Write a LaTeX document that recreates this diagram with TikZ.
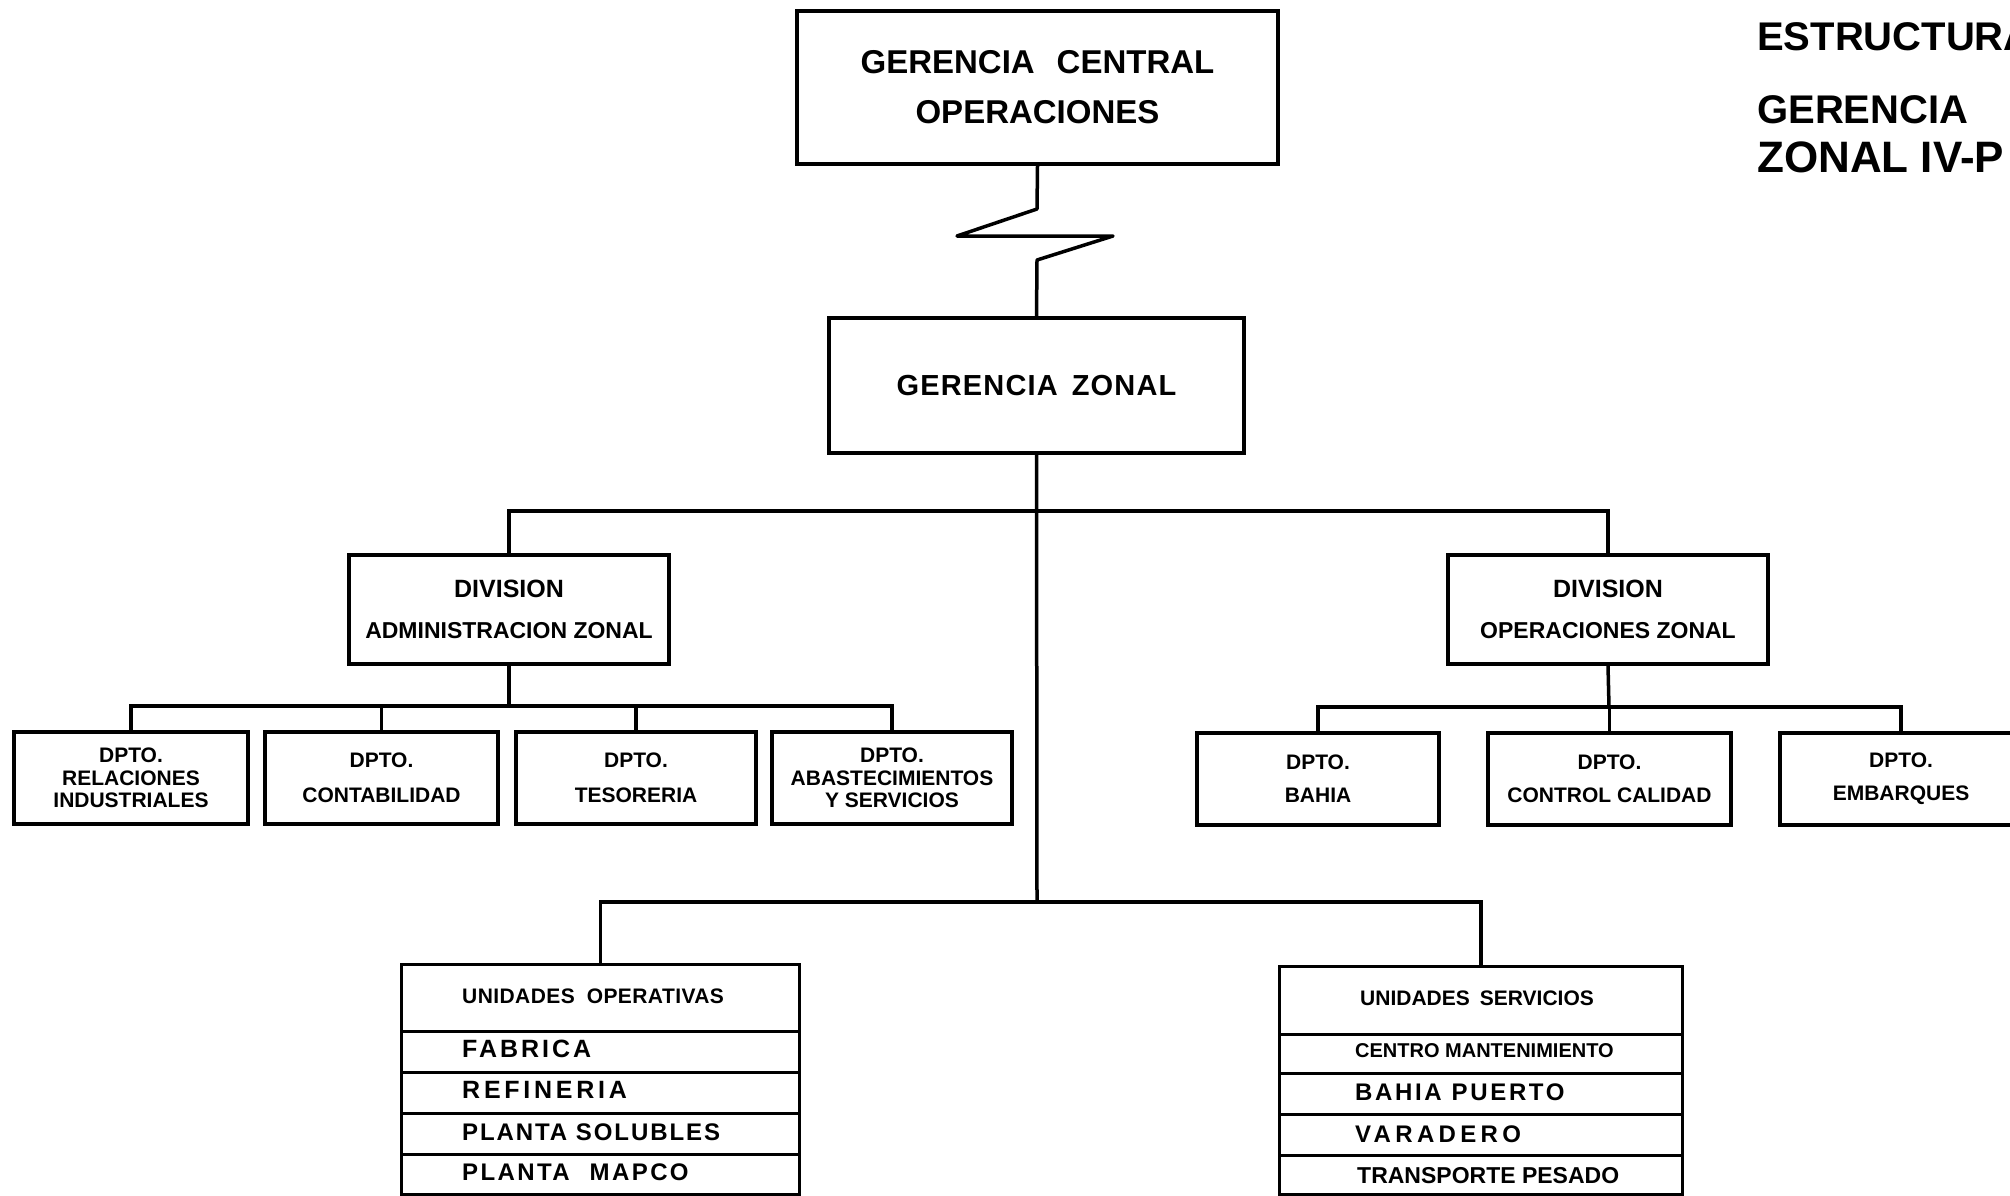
\documentclass[tikz,border=0pt]{standalone}
\usepackage{fontspec}
\setmainfont{Liberation Sans}
% letter-spaced text: \lsp{amount}{text}
\newcommand{\lsp}[2]{{\addfontfeature{LetterSpace=#1}#2}}

\begin{document}
\begin{tikzpicture}[x=1pt,y=-1pt,
  box/.style={draw, line width=3.5pt, inner sep=0pt, align=center},
  cell/.style={draw, line width=3pt, inner sep=0pt, anchor=north west},
  link/.style={line width=3.5pt},
  rowtext/.style={anchor=base west, inner sep=0pt, font=\bfseries},
  dept/.style={box, minimum height=92pt},
  deptthree/.style={font=\bfseries\fontsize{21}{22.5}\selectfont},
  depttwo/.style={font=\bfseries\fontsize{21}{35}\selectfont},
  deptright/.style={font=\bfseries\fontsize{21}{33}\selectfont},
  division/.style={box, minimum width=320pt, minimum height=109pt,
    font=\bfseries\fontsize{23}{41}\selectfont},
  title/.style={anchor=base west, inner sep=0pt,
    font=\bfseries\fontsize{40}{48}\selectfont}
]
\useasboundingbox (0,0) rectangle (2010,1195);
\clip (0,0) rectangle (2010,1195);

% heading at the upper right
\node[title] (t1) at (1757,50) {ESTRUCTURA};
\node[title] (t2) at (1757,123) {GERENCIA};
\node[title, font=\bfseries\fontsize{44}{48}\selectfont] (t3) at (1757,172) {ZONAL IV-P};

% top management
\node[box, minimum width=481pt, minimum height=153pt,
  font=\bfseries\fontsize{33}{50}\selectfont] (gc) at (1037.5,87.5)
  {GERENCIA\hspace{22pt}CENTRAL\\OPERACIONES};
\node[box, minimum width=415pt, minimum height=135pt,
  font=\bfseries\fontsize{29}{34}\selectfont] (gz) at (1036.5,385.5)
  {\lsp{4}{GERENCIA\hspace{14pt}ZONAL}};

% indirect link between the two managements
\coordinate (z1) at (1037,209);
\coordinate (z2) at (957,236);
\coordinate (z3) at (1113,236);
\coordinate (z4) at (1037,260);
\draw[link, line join=round] (gc.south) -- (z1) -- (z2) -- (z3) -- (z4) -- (gz.north);

% divisions
\node[division] (da) at (509,609.5)
  {{\fontsize{25}{41}\selectfont DIVISION}\\ADMINISTRACION ZONAL};
\node[division] (do) at (1608,609.5)
  {{\fontsize{25}{41}\selectfont DIVISION}\\OPERACIONES ZONAL};

\coordinate (bar1) at (1037,511);
\coordinate (bar3) at (1037,902);
\draw[link] (gz.south) -- (bar3);
\draw[link] (da.north) |- (bar1) -| (do.north);

% administration departments
\node[dept, deptthree, minimum width=234pt] (d1) at (131,778) {DPTO.\\RELACIONES\\INDUSTRIALES};
\node[dept, depttwo, minimum width=233pt] (d2) at (381.5,778) {DPTO.\\CONTABILIDAD};
\node[dept, depttwo, minimum width=240pt] (d3) at (636,778) {DPTO.\\TESORERIA};
\node[dept, deptthree, minimum width=240pt] (d4) at (892,778) {DPTO.\\ABASTECIMIENTOS\\Y SERVICIOS};

\coordinate (bar2) at (509,706);
\draw[link] (da.south) -- (bar2);
\draw[link] (d1.north) |- (bar2) -| (d4.north);
\draw[link] (d2.north) -- (d2.north |- bar2);
\draw[link] (d3.north) -- (d3.north |- bar2);

% operations departments
\node[dept, deptright, minimum width=242pt] (d5) at (1318,779) {DPTO.\\BAHIA};
\node[dept, deptright, minimum width=243pt] (d6) at (1609.5,779) {DPTO.\\CONTROL CALIDAD};
\node[dept, deptright, minimum width=242pt] (d7) at (1901,779) {DPTO.\\EMBARQUES};

\coordinate (bar4) at (1609,707);
\draw[link] (do.south) -- (bar4);
\draw[link] (d5.north) |- (bar4) -| (d7.north);
\draw[link] (d6.north) -- (d6.north |- bar4);

% operating units
\node[cell, minimum width=398pt, minimum height=67pt] (uo) at (400,963) {};
\node[cell, minimum width=398pt, minimum height=41pt] (uo1) at (400,1030) {};
\node[cell, minimum width=398pt, minimum height=41pt] (uo2) at (400,1071) {};
\node[cell, minimum width=398pt, minimum height=41pt] (uo3) at (400,1112) {};
\node[cell, minimum width=398pt, minimum height=40pt] (uo4) at (400,1153) {};
\node[rowtext, font=\bfseries\fontsize{21}{24}\selectfont] (uot) at (462,1003) {\lsp{2}{UNIDADES\hspace{12pt}OPERATIVAS}};
\node[rowtext, font=\bfseries\fontsize{25}{28}\selectfont] (uot1) at (462,1057) {\lsp{12}{FABRICA}};
\node[rowtext, font=\bfseries\fontsize{25}{28}\selectfont] (uot2) at (462,1098) {\lsp{15}{REFINERIA}};
\node[rowtext, font=\bfseries\fontsize{24}{28}\selectfont] (uot3) at (462,1140) {\lsp{8}{PLANTA SOLUBLES}};
\node[rowtext, font=\bfseries\fontsize{24}{28}\selectfont] (uot4) at (462,1180) {\lsp{10}{PLANTA\hspace{20pt}MAPCO}};

% service units
\node[cell, minimum width=403pt, minimum height=68pt] (us) at (1278,965) {};
\node[cell, minimum width=403pt, minimum height=39pt] (us1) at (1278,1033) {};
\node[cell, minimum width=403pt, minimum height=41pt] (us2) at (1278,1072) {};
\node[cell, minimum width=403pt, minimum height=41pt] (us3) at (1278,1113) {};
\node[cell, minimum width=403pt, minimum height=39pt] (us4) at (1278,1154) {};
\node[rowtext, font=\bfseries\fontsize{21}{24}\selectfont] (ust) at (1360,1005) {UNIDADES\hspace{10pt}SERVICIOS};
\node[rowtext, font=\bfseries\fontsize{20}{24}\selectfont] (ust1) at (1355,1057) {CENTRO MANTENIMIENTO};
\node[rowtext, font=\bfseries\fontsize{24}{28}\selectfont] (ust2) at (1355,1100) {\lsp{11}{BAHIA\hspace{10pt}PUERTO}};
\node[rowtext, font=\bfseries\fontsize{24}{28}\selectfont] (ust3) at (1355,1142) {\lsp{18}{VARADERO}};
\node[rowtext, font=\bfseries\fontsize{23}{28}\selectfont] (ust4) at (1357,1183) {TRANSPORTE PESADO};

\draw[link] (uo.north) |- (bar3) -| (us.north);
\end{tikzpicture}
\end{document}
